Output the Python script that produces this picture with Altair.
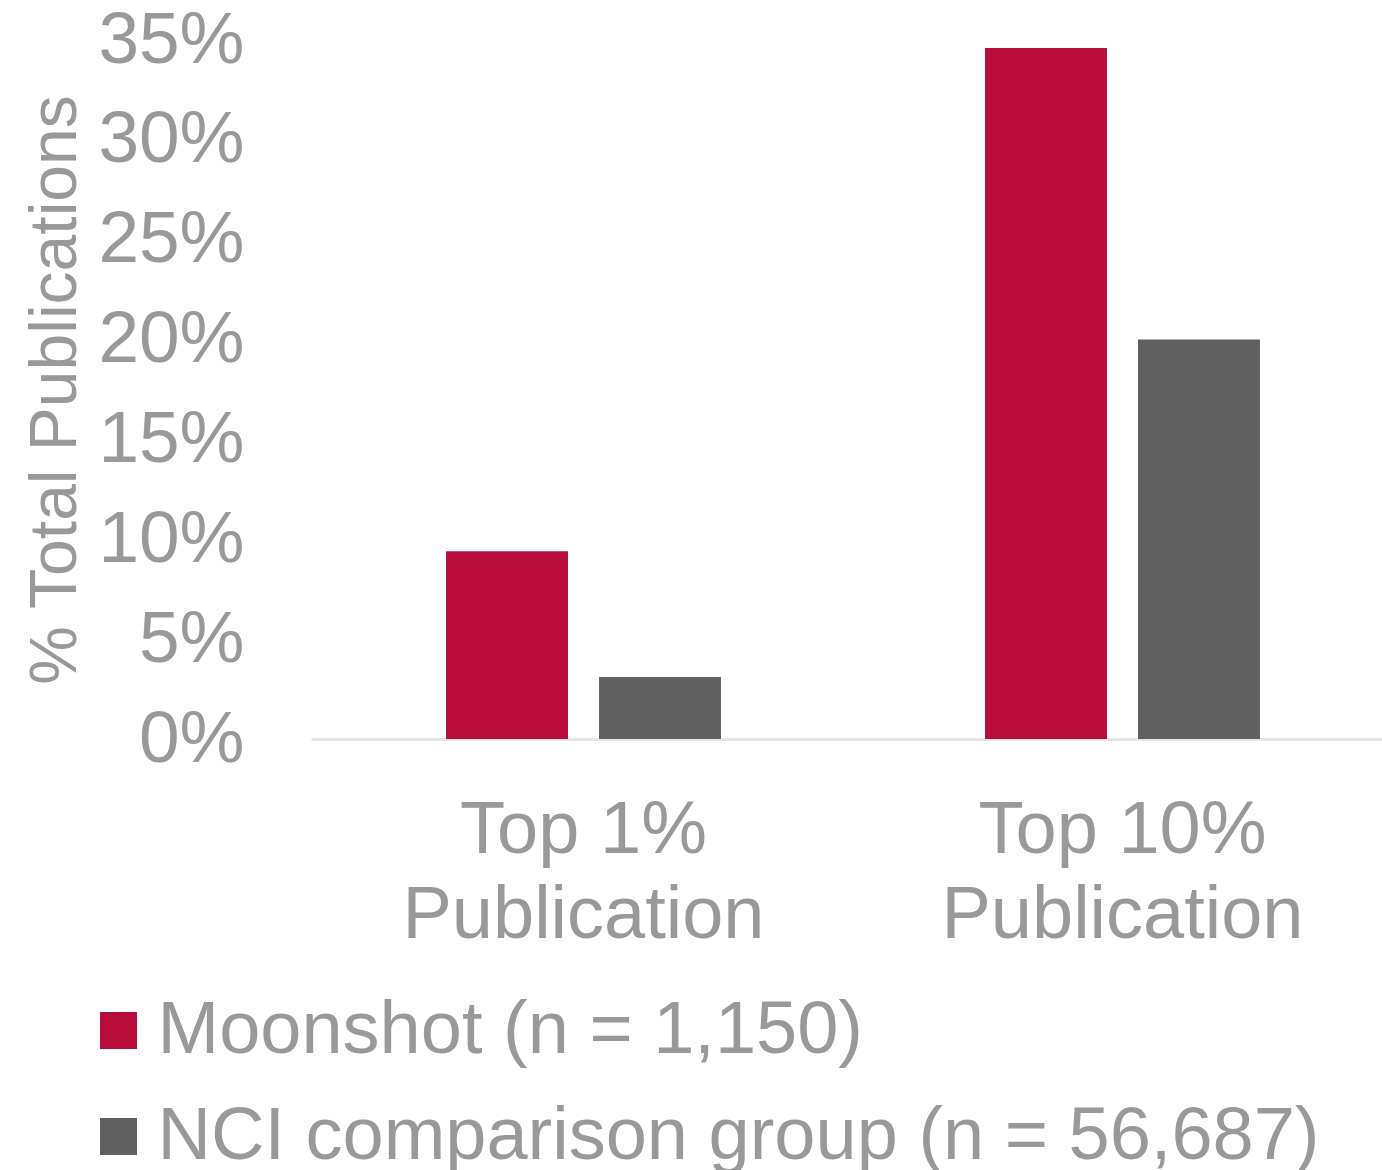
import altair as alt
import pandas as pd

categories = ["Top 1%\nPublication", "Top 10%\nPublication"]
series = ["Moonshot (n = 1,150)", "NCI comparison group (n = 56,687)"]
moonshot = [9.4, 34.6]
nci = [3.1, 20.0]
y_ticks = [0, 5, 10, 15, 20, 25, 30, 35]
colors = ["#BA0C3C", "#606060"]

rows = []
for i, c in enumerate(categories):
    rows.append({"category": c, "group": series[0], "value": moonshot[i]})
    rows.append({"category": c, "group": series[1], "value": nci[i]})
df = pd.DataFrame(rows)

FONT = "Liberation Sans"
TXT = "#999999"

chart = alt.Chart(df).mark_bar().encode(
    x=alt.X("category:N", sort=categories,
            scale=alt.Scale(range=[0, 1084], paddingInner=0, paddingOuter=0.0056),
            axis=alt.Axis(title=None, labelAngle=0, labelFontSize=74, labelColor=TXT,
                          labelFont=FONT, labelPadding=55, labelLineHeight=85,
                          labelBaseline="top", labelLimit=2000,
                          labelExpr="split(datum.label, '\\n')",
                          ticks=False, tickSize=0, domainColor="#E6E6E6", domainWidth=3,
                          grid=False)),
    xOffset=alt.XOffset("group:N", sort=series,
                        scale=alt.Scale(paddingInner=0.203, paddingOuter=0.863)),
    y=alt.Y("value:Q", scale=alt.Scale(domain=[0, 35], nice=False),
            axis=alt.Axis(values=y_ticks, labelExpr="datum.value + '%'",
                          title="% Total Publications", titleFontSize=66,
                          titleFontWeight="normal", titleColor=TXT, titleFont=FONT,
                          titleAngle=270, titleX=-236, titleY=349.5,
                          titleAlign="center", titleBaseline="alphabetic",
                          labelFontSize=73, labelColor=TXT, labelFont=FONT,
                          labelPadding=67, ticks=False, tickSize=0, domain=False,
                          grid=False)),
    color=alt.Color("group:N", sort=series,
                    scale=alt.Scale(domain=series, range=colors),
                    legend=alt.Legend(title=None, orient="none", legendX=-229.5, legendY=953.5,
                                      direction="vertical", symbolType="square",
                                      symbolSize=1369, symbolStrokeWidth=0,
                                      symbolOpacity=1,
                                      labelFontSize=74, labelColor=TXT, labelFont=FONT,
                                      labelOffset=2, labelLimit=1500, rowPadding=32,
                                      padding=0)),
).properties(
    width=1071, height=699,
    autosize=alt.AutoSizeParams(type="none"),
    padding={"left": 311, "top": 40, "right": 0, "bottom": 431},
).configure(background="white").configure_view(stroke=None, strokeWidth=0)

chart.save("out.html", embed_options={"renderer": "svg", "actions": False})
